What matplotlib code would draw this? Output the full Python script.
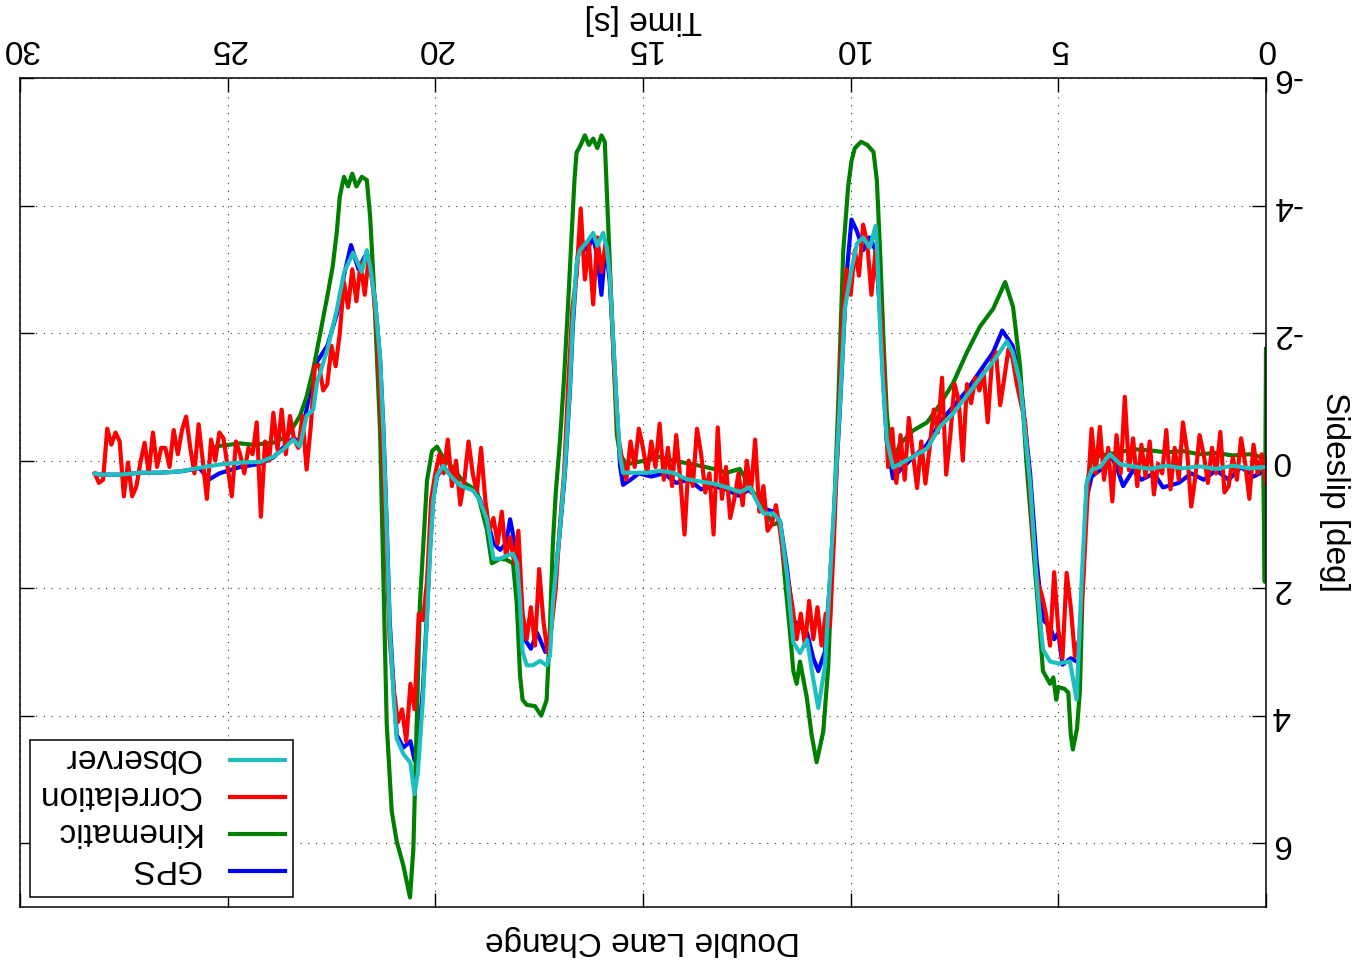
import numpy as np
import matplotlib
matplotlib.use('Agg')
from matplotlib import pyplot as plt

# whole chart is drawn upside down (rotated 180 deg), like the reference picture

# Observer estimate (time [s], sideslip [deg])
obs_t = [0.0, 0.4, 0.8, 1.2, 1.6, 2.0, 2.4, 2.8, 3.2, 3.5, 3.76, 4.0, 4.19, 4.32, 4.44, 4.56, 4.72, 5.0,
         5.2, 5.37, 5.52, 5.68, 5.92, 6.1, 6.24, 6.57, 6.89, 7.2, 7.53, 7.85, 8.16, 8.5, 8.81, 8.98, 9.13,
         9.22, 9.3, 9.37, 9.4, 9.54, 9.7, 9.85, 10.0, 10.14, 10.26, 10.38, 10.5, 10.62, 10.78, 10.9, 11.05,
         11.22, 11.38, 11.53, 11.7, 11.86, 12.1, 12.26, 12.42, 12.67, 12.98, 13.3, 13.6, 13.95, 14.28, 14.6,
         14.9, 15.24, 15.48, 15.55, 15.63, 15.72, 15.8, 15.87, 15.96, 16.1, 16.2, 16.35, 16.52, 16.6, 16.69,
         16.76, 16.88, 17.0, 17.17, 17.24, 17.32, 17.48, 17.65, 17.8, 17.9, 17.96, 18.03, 18.13, 18.28, 18.44,
         18.6, 18.68, 18.76, 18.93, 19.09, 19.4, 19.65, 19.81, 19.96, 20.05, 20.13, 20.2, 20.3, 20.42, 20.5,
         20.6, 20.77, 20.93, 21.0, 21.1, 21.17, 21.25, 21.33, 21.45, 21.57, 21.65, 21.77, 21.98, 22.2, 22.37,
         22.6, 22.85, 22.94, 23.1, 23.26, 23.42, 23.67, 23.9, 24.22, 24.7, 25.18, 25.67, 26.15, 26.63, 27.1,
         27.6, 28.07, 28.2]
obs_v = [0.10, 0.12, 0.08, 0.13, 0.09, 0.12, 0.08, 0.13, 0.09, 0.06, -0.10, 0.10, 0.14, 0.35, 1.90, 3.75, 3.15, 3.18,
         3.15, 2.96, 1.90, 0.35, -1.22, -1.70, -1.87, -1.55, -1.29, -1.02, -0.74, -0.53, -0.19, -0.06, 0.05, 0.11, -0.33,
         -1.20, -2.24, -3.40, -3.68, -3.34, -3.50, -3.40, -2.93, -2.38, -0.88, 0.49, 1.86, 3.23, 3.88, 3.43, 2.81,
         3.02, 2.85, 1.80, 0.95, 0.83, 0.83, 0.64, 0.42, 0.49, 0.42, 0.36, 0.33, 0.29, 0.19, 0.16,
         0.19, 0.19, 0.19, -0.06, -0.83, -1.93, -2.90, -3.34, -3.57, -3.37, -3.57, -3.43, -3.30, -3.09, -2.20,
         -1.16, 0.13, 1.08, 2.23, 3.06, 3.21, 3.14, 3.21, 3.21, 2.99, 2.23, 1.61, 1.46, 1.49, 1.54,
         1.54, 1.22, 0.92, 0.62, 0.47, 0.39, 0.23, 0.08, 0.23, 0.62, 1.46, 2.45, 3.75, 4.89, 5.23,
         4.74, 4.60, 4.36, 3.75, 2.60, 1.08, -0.45, -1.60, -2.50, -3.04, -3.30, -2.96, -3.26, -2.95, -2.37,
         -1.74, -1.22, -0.80, -0.70, -0.22, -0.33, -0.17, -0.06, 0.02, 0.03, 0.06, 0.11, 0.17, 0.19, 0.19,
         0.22, 0.22, 0.20]

# Kinematic estimate
kin_t = [0.0, 0.03, 0.07, 0.4, 0.8, 1.2, 1.6, 2.0, 2.4, 2.8, 3.2, 3.6, 4.0, 4.2, 4.32, 4.41, 4.48, 4.55, 4.65,
         4.7, 4.76, 4.85, 5.0, 5.05, 5.12, 5.2, 5.37, 5.44, 5.6, 5.76, 5.92, 6.09, 6.28, 6.57, 6.89, 7.2, 7.53,
         7.85, 8.16, 8.5, 8.81, 8.98, 9.05, 9.13, 9.21, 9.29, 9.37, 9.45, 9.6, 9.75, 9.9, 9.98, 10.06, 10.18,
         10.3, 10.42, 10.54, 10.66, 10.82, 10.94, 11.06, 11.22, 11.3, 11.38, 11.46, 11.6, 11.7, 11.86, 12.1,
         12.34, 12.67, 12.98, 13.3, 13.78, 14.28, 14.6, 14.97, 15.4, 15.55, 15.63, 15.76, 15.84, 15.92, 16.0,
         16.1, 16.2, 16.3, 16.4, 16.5, 16.6, 16.65, 16.72, 16.8, 16.9, 17.0, 17.1, 17.17, 17.24, 17.32, 17.45,
         17.6, 17.8, 17.9, 17.96, 18.04, 18.13, 18.3, 18.44, 18.64, 18.76, 19.0, 19.3, 19.6, 19.84, 19.96,
         20.08, 20.2, 20.37, 20.45, 20.53, 20.61, 20.77, 20.93, 21.05, 21.17, 21.25, 21.33, 21.48, 21.57,
         21.65, 21.77, 21.9, 22.0, 22.1, 22.2, 22.3, 22.37, 22.47, 22.6, 22.77, 22.94, 23.1, 23.26, 23.42,
         23.58, 23.9, 24.4, 24.7, 25.2, 25.4]
kin_v = [-1.75, 1.90, -0.05, -0.10, -0.08, -0.12, -0.10, -0.15, -0.13, -0.16, -0.18, -0.12, -0.08, -0.02, 0.40,
         1.90, 3.60, 4.20, 4.53, 4.30, 3.64, 3.58, 3.55, 3.75, 3.40, 3.50, 3.30, 2.70, 1.40, 0.10, -1.47, -2.41,
         -2.80, -2.38, -2.10, -1.70, -1.22, -0.88, -0.60, -0.47, -0.26, 0.00, -0.20, -0.74, -1.90, -3.26, -4.40,
         -4.84, -4.95, -5.00, -4.90, -4.70, -4.30, -3.27, -0.88, 1.18, 3.23, 4.25, 4.73, 4.30, 3.70, 3.15, 3.50,
         3.30, 2.70, 1.74, 0.97, 1.00, 0.77, 0.50, 0.13, 0.19, 0.13, 0.06, 0.00, -0.06, 0.00, 0.06, -0.10, -0.40,
         -2.45, -3.73, -5.00, -5.10, -4.90, -5.05, -4.95, -5.10, -4.95, -4.83, -4.40, -3.50, -2.50, -1.30, -0.30,
         0.50, 1.30, 2.60, 3.75, 4.00, 3.85, 3.83, 3.75, 3.37, 2.23, 1.61, 1.55, 1.54, 1.61, 1.08, 0.47, 0.35,
         0.10, -0.08, -0.22, -0.15, 0.31, 2.23, 4.14, 6.10, 6.85, 6.35, 5.97, 5.50, 4.14, 1.84, -0.45, -2.74,
         -3.83, -4.40, -4.45, -4.30, -4.50, -4.30, -4.45, -4.14, -3.60, -3.05, -2.58, -2.00, -1.43, -1.00,
         -0.70, -0.53, -0.38, -0.28, -0.25, -0.27, -0.23, -0.20]

# GPS reference
gps_t = [0.0, 0.3, 0.6, 0.9, 1.2, 1.5, 1.8, 2.1, 2.48, 2.7, 3.0, 3.2, 3.44, 3.6, 3.76, 4.0, 4.2, 4.32, 4.44,
         4.5, 4.7, 4.9, 5.0, 5.1, 5.2, 5.37, 5.52, 5.68, 5.92, 6.1, 6.35, 6.57, 6.89, 7.2, 7.53, 7.85, 8.16,
         8.5, 8.81, 8.98, 9.13, 9.22, 9.3, 9.4, 9.55, 9.7, 9.85, 9.98, 10.1, 10.26, 10.38, 10.5, 10.62, 10.78,
         10.9, 11.05, 11.22, 11.38, 11.53, 11.7, 11.86, 12.1, 12.42, 12.7, 13.0, 13.3, 13.6, 13.9, 14.2, 14.5,
         14.8, 15.1, 15.3, 15.48, 15.55, 15.63, 15.72, 15.8, 15.9, 16.0, 16.1, 16.2, 16.35, 16.52, 16.6, 16.69,
         16.76, 16.88, 17.0, 17.17, 17.24, 17.35, 17.55, 17.7, 17.85, 17.96, 18.03, 18.2, 18.3, 18.44, 18.6,
         18.76, 18.93, 19.1, 19.4, 19.65, 19.81, 19.96, 20.05, 20.13, 20.2, 20.3, 20.42, 20.5, 20.6, 20.77,
         20.93, 21.0, 21.1, 21.17, 21.25, 21.33, 21.45, 21.57, 21.7, 21.85, 22.03, 22.2, 22.37, 22.6, 22.9,
         23.1, 23.26, 23.42, 23.67, 23.9, 24.22, 24.7, 25.2, 25.46, 25.67, 26.15, 26.63, 27.1, 27.6, 28.07, 28.2]
gps_v = [0.15, 0.25, 0.10, 0.30, 0.15, 0.30, 0.20, 0.35, 0.42, 0.20, 0.30, 0.15, 0.40, 0.10, -0.12, 0.15, 0.25, 0.60,
         2.20, 3.17, 3.10, 3.20, 2.70, 2.80, 2.60, 2.50, 1.60, 0.20, -1.30, -1.80, -2.04, -1.70, -1.40, -1.10, -0.85,
         -0.60, -0.25, -0.05, 0.15, 0.28, -0.30, -1.30, -2.40, -3.30, -3.50, -3.30, -3.60, -3.78, -2.90, -0.80, 0.60,
         1.90, 3.00, 3.30, 3.10, 2.70, 2.60, 2.50, 1.70, 0.95, 0.80, 0.75, 0.45, 0.55, 0.45, 0.40, 0.45, 0.30, 0.35,
         0.20, 0.25, 0.20, 0.30, 0.38, 0.10, -0.80, -1.90, -2.80, -3.40, -2.60, -3.20, -3.50, -3.30, -3.50, -3.00,
         -2.10, -1.10, 0.20, 1.10, 2.20, 2.90, 3.00, 2.70, 2.95, 2.80, 2.00, 1.50, 0.92, 1.30, 1.40, 1.30, 0.90,
         0.60, 0.45, 0.40, 0.20, 0.10, 0.25, 0.60, 1.40, 2.40, 3.60, 4.50, 4.70, 4.40, 4.50, 4.30, 3.60, 2.50, 1.00,
         -0.50, -1.60, -2.50, -3.10, -3.20, -3.00, -3.38, -2.90, -2.30, -1.80, -1.50, -0.80, -0.30, -0.35, -0.20,
         -0.05, 0.05, 0.10, 0.20, 0.30, 0.12, 0.17, 0.19, 0.19, 0.22, 0.22, 0.20]

# Correlation estimate, one value every 0.1 s from t = 0
corr_v = [0.35, -0.10, 0.20, -0.25, 0.60, 0.05, -0.35, 0.30, -0.05, 0.40,
          0.50, -0.45, 0.20, -0.20, 0.35, -0.10, -0.40, 0.25, 0.72, -0.15,
          -0.60, 0.30, -0.20, 0.45, -0.48, 0.20, 0.05, 0.53, -0.30, 0.25,
          -0.25, 0.40, -0.35, 0.15, -1.00, 0.20, -0.40, 0.64, -0.20, 0.30,
          -0.53, 0.20, -0.50, 0.60, 1.90, 2.80, 3.07, 2.30, 1.76, 3.10,
          2.65, 1.75, 2.90, 2.40, 2.10, 1.90, 1.30, 0.30, -0.60, -0.90,
          -1.20, -1.60, -1.75, -1.30, -0.87, -1.70, -1.55, -0.60, -1.40, -1.10,
          -1.30, -0.90, -1.20, 0.00, -0.95, -1.20, -0.40, 0.22, -1.30, -0.44,
          -0.80, -0.20, 0.36, -0.30, 0.43, -0.10, -0.67, 0.30, -0.40, 0.35,
          -0.50, 0.10, -1.40, -2.50, -3.30, -2.60, -3.40, -3.70, -2.90, -3.30,
          -2.60, -3.00, -2.20, -0.50, 1.20, 2.60, 2.40, 2.90, 2.30, 2.80,
          2.20, 2.90, 2.40, 2.80, 2.30, 1.90, 1.60, 1.10, 0.70, 1.00,
          1.10, 0.40, 0.80, -0.33, 0.50, 0.00, 0.70, 0.20, 0.60, 0.90,
          0.10, 0.60, -0.52, 1.16, 0.20, 0.50, -0.10, -0.50, 0.40, 0.00,
          1.16, 0.30, -0.40, 0.40, -0.20, 0.30, -0.58, 0.10, -0.30, 0.20,
          -0.20, -0.50, 0.10, -0.30, 0.30, 0.00, -0.40, -1.50, -2.96, -3.40,
          -2.96, -3.50, -2.45, -3.40, -2.84, -3.95, -2.90, -2.40, -1.20, 0.20,
          1.00, 2.00, 2.60, 3.00, 2.50, 1.70, 2.90, 2.30, 2.80, 2.40,
          1.10, 1.60, 1.20, 1.50, 0.80, 1.30, 0.90, 1.10, 0.60, -0.20,
          0.50, 0.20, -0.30, 0.30, 0.69, 0.00, 0.40, -0.33, 0.20, -0.10,
          0.20, 0.60, 1.90, 2.50, 2.40, 3.90, 3.50, 4.40, 3.90, 4.10,
          3.60, 2.80, 1.00, -0.60, -2.00, -2.70, -3.20, -2.60, -3.10, -2.50,
          -3.00, -2.40, -2.80, -2.00, -1.48, -1.80, -1.20, -1.10, -1.50, -1.48,
          -0.53, 0.14, -0.70, -0.20, -0.33, -0.70, -0.10, -0.80, -0.17, -0.75,
          0.00, -0.30, 0.88, -0.60, -0.10, -0.20, 0.20, -0.10, -0.30, 0.56,
          0.10, -0.35, -0.44, 0.00, -0.33, 0.60, 0.00, -0.57, 0.20, -0.20,
          -0.69, -0.48, -0.10, -0.48, 0.10, -0.20, -0.20, 0.10, -0.44, 0.20,
          -0.28, 0.03, 0.41, 0.56, 0.03, 0.56, -0.30, -0.44, -0.25, -0.50,
          0.30, 0.35, 0.20]
corr_t = np.round(np.arange(len(corr_v)) * 0.1, 1)

x_ticks = [0, 5, 10, 15, 20, 25, 30]
y_ticks = [-6, -4, -2, 0, 2, 4, 6]

plt.rcParams['font.family'] = ['Liberation Sans', 'DejaVu Sans']
plt.rcParams['font.size'] = 24
plt.rcParams['axes.unicode_minus'] = False

fig = plt.figure(figsize=(13.56, 9.68), dpi=100)
ax = fig.add_axes([20 / 1356, 61 / 968, 1246 / 1356, 829 / 968])

lw = 3
l_gps, = ax.plot(gps_t, gps_v, color='#0000ff', lw=lw, label='GPS')
l_kin, = ax.plot(kin_t, kin_v, color='#008000', lw=lw, label='Kinematic')
l_corr, = ax.plot(corr_t, corr_v, color='#ff0000', lw=lw, label='Correlation')
l_obs, = ax.plot(obs_t, obs_v, color='#1fbfbf', lw=lw, label='Observer')

# flipped axes
ax.set_xlim(30, 0)
ax.set_ylim(7, -6)
ax.set_xticks(x_ticks)
ax.set_yticks(y_ticks)

ax.tick_params(axis='x', top=True, bottom=True, labeltop=True, labelbottom=False,
               direction='in', length=10, width=1, labelrotation=180, pad=10)
ax.tick_params(axis='y', left=True, right=True, labelleft=False, labelright=True,
               direction='in', length=10, width=1, labelrotation=180, pad=4)
for lab in ax.get_yticklabels():
    lab.set_va('center')

ax.grid(True, color='black', linestyle=(0, (1, 6)), linewidth=0.8, alpha=0.8)
for s in ax.spines.values():
    s.set_linewidth(1.1)

ax.xaxis.set_label_position('top')
ax.set_xlabel('Time [s]', rotation=180, labelpad=-1)
ax.xaxis.label.set_va('bottom')

ax.yaxis.set_label_position('right')
ax.set_ylabel('Sideslip [deg]', rotation=270, labelpad=13)
ax.yaxis.label.set_va('bottom')

# title sits under the plot (upside down)
ax.annotate('Double Lane Change', xy=(0.5, 0), xycoords='axes fraction',
            xytext=(0, -13), textcoords='offset points',
            ha='center', va='top', rotation=180)

leg = ax.legend(handles=[l_obs, l_corr, l_kin, l_gps], loc='lower left', markerfirst=False,
                fancybox=False, edgecolor='black', framealpha=1, handlelength=1.65,
                handletextpad=0.9, borderpad=0.22, labelspacing=0.18, borderaxespad=0.3)
leg.get_frame().set_linewidth(1.1)
for txt in leg.get_texts():
    txt.set_rotation(180)
    txt.set_position((0, 6))

plt.savefig('out.png', dpi=100)
